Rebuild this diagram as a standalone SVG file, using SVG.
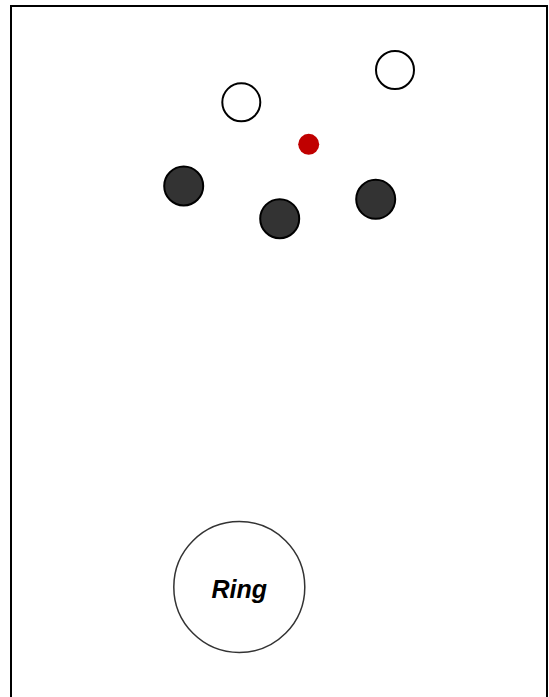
<svg xmlns="http://www.w3.org/2000/svg" width="549" height="697" viewBox="0 0 549 697">
<style>
.frame{fill:#fff;stroke:#000;stroke-width:2}
.open{fill:#fff;stroke:#000;stroke-width:2}
.dark{fill:#333;stroke:#000;stroke-width:2}
.red{fill:#c00000;stroke:none}
.ring{fill:#fff;stroke:#333;stroke-width:1.5}
.lbl{font-family:"Liberation Sans",Arial,sans-serif;font-size:25px;font-weight:bold;font-style:italic;fill:#000;text-anchor:middle}
</style>
<rect class="frame" x="11" y="6" width="536" height="700"/>
<g id="open1"><circle class="open" cx="241.3" cy="102.3" r="19"/></g>
<g id="open2"><circle class="open" cx="395" cy="70" r="19"/></g>
<g id="red"><circle class="red" cx="308.7" cy="144.3" r="10.5"/></g>
<g id="dark1"><circle class="dark" cx="183.7" cy="186" r="19.5"/></g>
<g id="dark2"><circle class="dark" cx="279.7" cy="218.7" r="19.5"/></g>
<g id="dark3"><circle class="dark" cx="375.7" cy="199.3" r="19.5"/></g>
<g id="ring"><circle class="ring" cx="239.3" cy="587" r="65.5"/><text class="lbl" x="239.3" y="598">Ring</text></g>
<g id="connectors"/>
</svg>
